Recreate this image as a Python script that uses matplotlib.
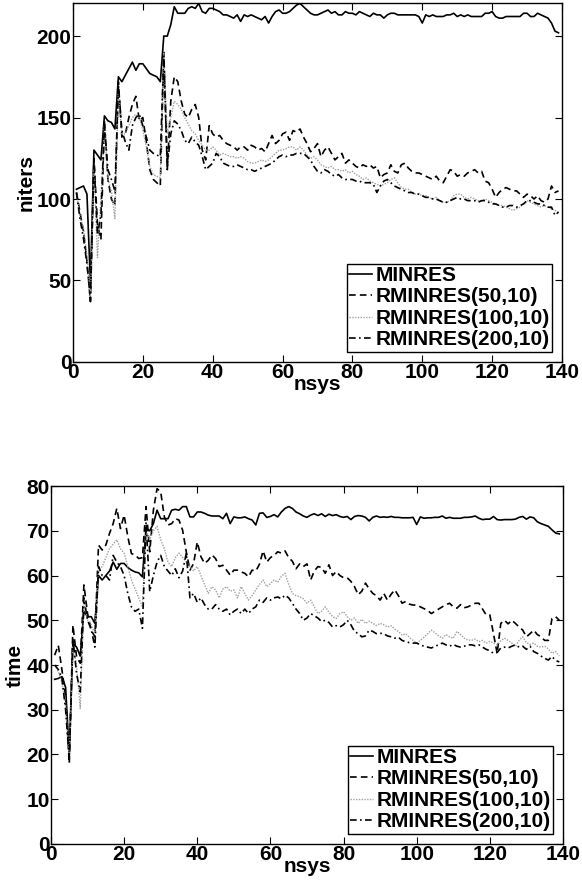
import matplotlib
matplotlib.use("Agg")
from matplotlib import pyplot as plt
import numpy as np

nsys = np.arange(1, 140)
labels = ["MINRES", "RMINRES(50,10)", "RMINRES(100,10)", "RMINRES(200,10)"]

# iterations
niters_minres = [
    106, 107, 108, 103, 48, 130, 127, 124, 151, 148,
    147, 143, 175, 172, 176, 180, 184, 179, 183, 183,
    180, 177, 176, 175, 172, 200, 200, 207, 218, 214,
    214, 214, 217, 218, 217, 220, 215, 214, 217, 217,
    216, 215, 213, 213, 212, 211, 213, 209, 213, 212,
    213, 212, 211, 210, 212, 208, 212, 215, 216, 214,
    214, 215, 217, 219, 220, 218, 216, 214, 213, 213,
    214, 215, 216, 214, 215, 213, 213, 215, 214, 214,
    213, 215, 214, 213, 212, 214, 213, 213, 211, 213,
    214, 214, 213, 213, 213, 213, 213, 213, 212, 208,
    213, 212, 213, 212, 212, 212, 213, 213, 214, 212,
    213, 212, 213, 212, 212, 212, 212, 214, 214, 215,
    212, 211, 211, 212, 212, 212, 212, 212, 214, 214,
    212, 212, 214, 213, 212, 211, 208, 203, 202]
niters_r50 = [
    104, 92, 80, 62, 37, 125, 85, 75, 148, 112,
    100, 96, 172, 138, 140, 150, 158, 163, 148, 150,
    135, 118, 112, 110, 108, 190, 118, 160, 175, 172,
    160, 152, 150, 155, 158, 150, 130, 124, 145, 140,
    138, 139, 136, 134, 133, 132, 130, 132, 132, 130,
    133, 132, 130, 131, 129, 134, 139, 134, 136, 140,
    141, 136, 142, 141, 143, 138, 134, 129, 131, 134,
    126, 130, 132, 128, 124, 126, 128, 122, 124, 122,
    120, 119, 121, 120, 121, 119, 120, 113, 115, 116,
    121, 117, 116, 121, 122, 119, 117, 116, 116, 115,
    114, 113, 112, 114, 111, 110, 114, 118, 117, 114,
    115, 114, 116, 117, 118, 116, 117, 111, 110, 106,
    101, 104, 106, 107, 106, 105, 105, 103, 101, 103,
    102, 100, 102, 99, 98, 100, 108, 104, 105]
niters_r100 = [
    104, 90, 82, 66, 40, 122, 64, 100, 145, 112,
    105, 88, 165, 140, 140, 145, 150, 152, 150, 142,
    132, 120, 115, 114, 113, 190, 140, 150, 160, 158,
    155, 150, 146, 142, 140, 136, 133, 130, 130, 132,
    130, 127, 128, 127, 126, 126, 125, 126, 125, 123,
    122, 122, 123, 124, 123, 124, 126, 128, 130, 130,
    131, 132, 132, 130, 132, 130, 127, 125, 126, 124,
    121, 120, 119, 120, 118, 118, 117, 118, 116, 117,
    115, 114, 112, 113, 111, 110, 109, 108, 109, 110,
    112, 113, 110, 107, 106, 106, 104, 103, 103, 102,
    102, 101, 100, 101, 99, 98, 98, 99, 102, 103,
    103, 101, 100, 101, 100, 99, 99, 100, 99, 98,
    97, 96, 96, 95, 94, 93, 94, 95, 97, 99,
    98, 97, 96, 95, 96, 95, 94, 93, 92]
niters_r200 = [
    104, 88, 76, 60, 38, 124, 78, 90, 146, 118,
    112, 105, 170, 142, 135, 130, 145, 150, 152, 145,
    138, 130, 128, 127, 126, 188, 120, 140, 148, 146,
    142, 136, 134, 138, 135, 133, 126, 118, 120, 122,
    128, 126, 122, 121, 120, 120, 121, 120, 119, 118,
    118, 117, 118, 119, 120, 121, 122, 124, 126, 127,
    126, 127, 127, 128, 128, 128, 126, 124, 120, 117,
    116, 118, 117, 115, 114, 115, 113, 112, 112, 112,
    111, 111, 110, 110, 110, 109, 104, 108, 111, 112,
    110, 108, 107, 106, 105, 104, 104, 103, 103, 102,
    101, 101, 100, 100, 99, 98, 98, 99, 100, 101,
    100, 100, 99, 99, 99, 98, 99, 99, 98, 97,
    97, 96, 95, 95, 96, 96, 95, 96, 97, 99,
    99, 98, 97, 97, 96, 95, 95, 90, 92]

# time
time_minres = [
    36.8, 37.0, 37.4, 35.0, 20.0, 44.8, 44.0, 42.0, 52.0, 50.8,
    50.8, 49.3, 60.0, 59.0, 60.0, 61.0, 63.0, 61.4, 62.7, 62.7,
    61.8, 61.2, 60.8, 60.6, 59.7, 70.5, 70.0, 71.6, 74.6, 72.7,
    72.7, 72.7, 74.6, 74.8, 74.6, 75.4, 75.4, 73.1, 73.1, 74.2,
    74.2, 73.9, 73.5, 73.3, 73.3, 73.3, 72.7, 73.9, 71.6, 73.1,
    72.9, 72.9, 73.1, 72.7, 72.4, 71.3, 73.9, 74.0, 73.0, 73.2,
    73.6, 73.1, 74.2, 75.0, 75.4, 75.0, 74.2, 73.8, 73.3, 73.0,
    73.5, 73.8, 73.4, 73.8, 73.2, 73.7, 73.4, 73.6, 73.2, 73.0,
    73.2, 72.5, 73.2, 73.4, 73.3, 73.0, 72.2, 73.0, 73.3, 73.0,
    73.1, 73.0, 73.2, 73.0, 73.0, 72.9, 72.9, 72.9, 73.0, 71.4,
    73.1, 72.8, 72.9, 72.9, 73.0, 73.0, 73.3, 72.8, 73.0, 72.8,
    72.8, 72.8, 73.0, 73.0, 73.1, 73.3, 72.8, 72.5, 72.6, 72.6,
    73.2, 72.5, 72.4, 72.5, 72.5, 72.5, 72.6, 73.0, 73.2, 72.6,
    73.1, 72.9, 72.0, 71.6, 71.3, 71.0, 70.2, 69.5, 69.3]
time_r50 = [
    42.2, 44.4, 38.9, 32.9, 18.0, 48.9, 41.8, 40.4, 57.9, 51.5,
    47.8, 46.3, 66.8, 65.7, 66.8, 69.4, 71.6, 75.0, 70.5, 73.5,
    68.7, 64.9, 64.6, 63.8, 64.0, 75.4, 65.3, 74.6, 79.4, 78.7,
    73.1, 71.3, 71.6, 72.7, 72.4, 70.1, 65.3, 61.2, 62.7, 67.5,
    64.2, 62.7, 63.4, 64.6, 63.8, 62.0, 62.3, 61.2, 60.1, 61.2,
    61.2, 60.8, 60.5, 59.7, 61.2, 61.0, 62.5, 65.5, 63.0, 64.0,
    64.5, 65.3, 65.0, 65.5, 64.0, 63.2, 61.5, 62.6, 62.0, 62.6,
    59.0, 61.0, 62.0, 61.8, 60.5, 62.4, 60.0, 60.9, 60.0, 59.5,
    59.5, 58.7, 57.5, 55.7, 56.5, 58.3, 57.0, 56.0, 55.5, 54.5,
    56.0, 54.5, 55.8, 56.8, 55.5, 53.8, 54.2, 53.6, 53.4, 53.4,
    53.0, 52.6, 52.2, 51.5, 52.0, 52.5, 53.0, 53.5, 53.8, 53.0,
    52.7, 53.5, 52.8, 53.0, 53.4, 53.8, 53.8, 52.5, 51.2, 51.2,
    47.0, 42.6, 49.3, 50.0, 49.2, 50.0, 49.3, 48.5, 47.8, 46.3,
    47.0, 47.8, 46.8, 46.3, 45.5, 45.5, 50.4, 50.8, 50.0]
time_r100 = [
    40.0, 38.5, 36.0, 31.0, 19.5, 44.0, 40.0, 30.3, 54.0, 50.0,
    49.0, 47.0, 61.0, 62.0, 64.0, 66.0, 67.0, 68.0, 66.0, 65.0,
    62.0, 59.0, 57.0, 55.0, 53.0, 70.0, 68.0, 70.0, 71.0, 68.0,
    66.0, 63.0, 62.0, 64.0, 65.0, 64.0, 63.0, 62.0, 61.0, 62.0,
    60.0, 58.0, 56.0, 57.5, 56.8, 55.0, 57.0, 57.5, 56.5, 56.8,
    55.0, 57.5, 56.0, 54.5, 55.5, 56.8, 58.0, 59.0, 57.5, 58.2,
    59.0, 58.5, 59.8, 60.5, 58.0, 56.0, 55.5, 55.3, 54.8, 53.8,
    54.5, 53.0, 51.5, 52.0, 53.0, 51.8, 50.8, 50.4, 51.5, 51.9,
    50.8, 50.0, 50.5, 49.3, 50.2, 49.3, 49.8, 49.3, 48.8, 49.3,
    49.0, 48.5, 48.8, 48.0, 47.5, 46.7, 47.0, 46.2, 45.5, 44.9,
    45.5, 46.2, 47.0, 47.8, 47.2, 46.5, 46.0, 46.8, 46.3, 46.0,
    47.5, 46.8, 46.0, 45.6, 45.5, 45.8, 45.2, 45.5, 44.9, 45.3,
    44.9, 44.5, 45.4, 46.0, 45.5, 44.9, 44.2, 45.5, 46.3, 45.0,
    44.6, 44.9, 44.2, 44.0, 44.2, 43.6, 42.6, 43.0, 42.0]
time_r200 = [
    40.0, 39.0, 37.0, 30.0, 19.0, 46.0, 38.0, 34.0, 55.0, 50.0,
    48.0, 44.0, 62.0, 60.0, 60.0, 59.0, 64.5, 63.0, 62.0, 60.0,
    56.0, 53.0, 52.0, 52.5, 48.2, 72.0, 56.4, 60.0, 63.0, 64.5,
    62.0, 61.0, 60.0, 61.5, 59.5, 61.0, 65.0, 55.0, 56.0, 54.0,
    55.0, 53.5, 52.5, 52.5, 53.5, 52.5, 52.0, 52.5, 51.2, 52.0,
    52.5, 51.5, 52.5, 51.5, 52.5, 53.0, 54.5, 54.0, 55.0, 54.5,
    55.0, 55.2, 54.8, 55.6, 55.0, 53.8, 52.5, 51.5, 50.0, 50.5,
    51.5, 51.0, 50.5, 49.7, 50.0, 49.5, 48.5, 48.8, 48.5, 49.0,
    50.0, 49.0, 47.5, 47.0, 46.3, 46.5, 47.8, 47.5, 47.0, 47.1,
    47.0, 46.5, 46.3, 46.0, 46.2, 45.5, 45.2, 45.0, 44.9, 44.9,
    44.5, 44.2, 44.0, 43.8, 44.2, 44.5, 44.9, 44.5, 44.2, 44.6,
    44.2, 44.0, 44.2, 44.5, 44.5, 44.3, 44.5, 44.0, 43.5, 43.2,
    42.6, 42.8, 43.8, 44.0, 43.8, 44.2, 44.5, 44.0, 44.2, 43.5,
    44.2, 43.0, 42.6, 42.0, 41.5, 41.1, 41.9, 41.0, 40.7]

for s in [niters_minres, niters_r50, niters_r100, niters_r200,
          time_minres, time_r50, time_r100, time_r200]:
    assert len(s) == len(nsys), len(s)

plt.rcParams["font.family"] = ["Liberation Sans", "DejaVu Sans"]
plt.rcParams["font.weight"] = "bold"
plt.rcParams["font.size"] = 15

styles = [
    dict(color="black", linestyle="-", linewidth=1.2),
    dict(color="black", linestyle=(0, (4, 2.5)), linewidth=1.2),
    dict(color="#a0a0a0", linestyle=(0, (1, 1)), linewidth=1.0),
    dict(color="black", linestyle=(0, (4, 2, 1, 2)), linewidth=1.2),
]


def draw(ax, series, ylim, yticks, ylabel):
    for ys, st, lab in zip(series, styles, labels):
        ax.plot(nsys, ys, label=lab, **st)
    ax.set_xlim(0, 140)
    ax.set_ylim(*ylim)
    ax.set_xticks(range(0, 141, 20))
    ax.set_yticks(yticks)
    ax.tick_params(direction="in", top=True, right=True, length=5, width=0.8,
                   labelsize=15, pad=1)
    for sp in ax.spines.values():
        sp.set_linewidth(1.0)
    ax.set_xlabel("nsys", fontweight="bold", fontsize=15, labelpad=-5)
    ax.set_ylabel(ylabel, fontweight="bold", fontsize=15, labelpad=1)
    leg = ax.legend(loc="lower right", fancybox=False, edgecolor="black",
                    framealpha=1, fontsize=15, handlelength=1.1,
                    handletextpad=0.15, labelspacing=0.12, borderpad=0.1,
                    borderaxespad=0.5)
    leg.get_frame().set_linewidth(1.0)
    for t in leg.get_texts():
        t.set_fontweight("bold")


fig = plt.figure(figsize=(5.82, 8.9), dpi=100)
ax1 = fig.add_axes([0.1254, 0.5933, 0.8402, 0.4028])
ax2 = fig.add_axes([0.0876, 0.0517, 0.8797, 0.4022])

draw(ax1, [niters_minres, niters_r50, niters_r100, niters_r200],
     (0, 220), range(0, 201, 50), "niters")
draw(ax2, [time_minres, time_r50, time_r100, time_r200],
     (0, 80), range(0, 81, 10), "time")

fig.savefig("out.png", dpi=100)
